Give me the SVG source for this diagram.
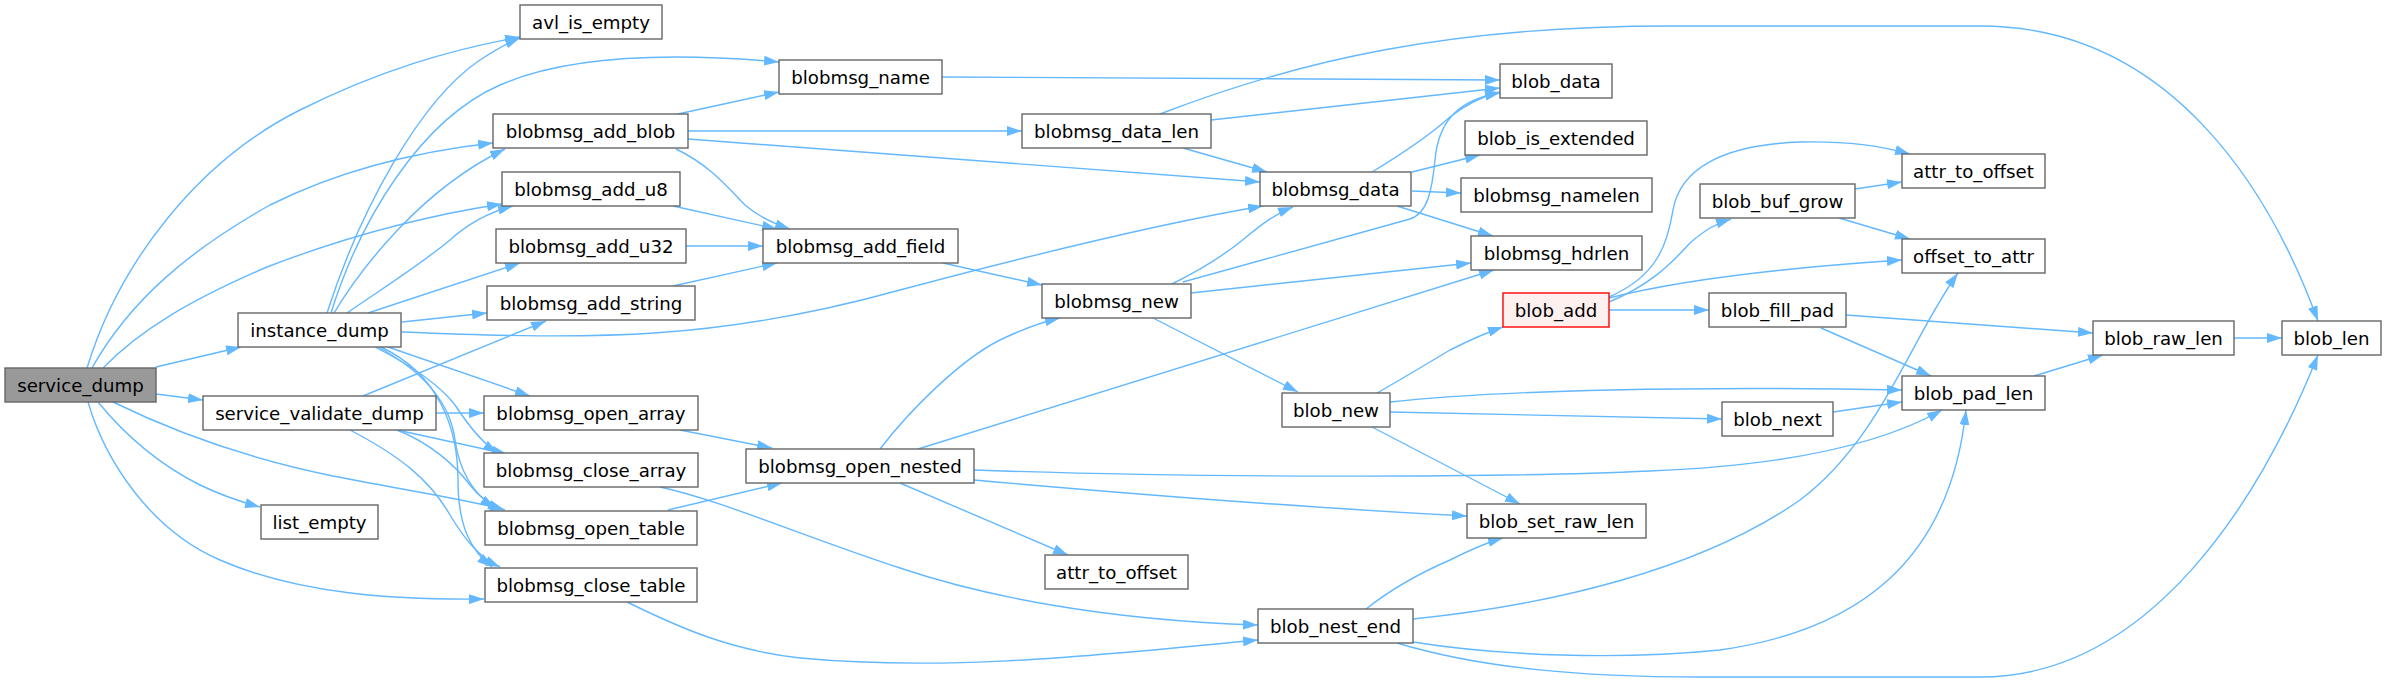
<svg xmlns="http://www.w3.org/2000/svg" width="2386" height="683" viewBox="0 0 2386 683">
<defs>
<marker id="ah" markerUnits="userSpaceOnUse" markerWidth="15" markerHeight="10" refX="15" refY="5" orient="auto" viewBox="0 0 15 10">
<path d="M0,0 L15,5 L0,10 z" fill="#63b8ff"/>
</marker>
<style>
.n rect{fill:#ffffff;stroke:#666666;stroke-width:1.4}
.n text{font-family:"DejaVu Sans",sans-serif;font-size:18.2px;fill:#000000;text-anchor:middle}
#n_service_dump rect{fill:#999999;stroke:#666666}
#n_blob_add rect{fill:#fff0f0;stroke:#ff0000}
.e path{fill:none;stroke:#63b8ff;stroke-width:1.4;marker-end:url(#ah)}
</style>
</defs>
<rect width="2386" height="683" fill="#ffffff"/>
<g id="edges" class="e">
<path d="M87,368 C120,260 200,160 300,110 C380,70 450,50 520,37"/>
<path d="M92,368 C130,300 190,250 270,205 C350,165 430,150 493,143"/>
<path d="M103,368 C140,330 190,300 267,267 C350,235 430,215 502,204"/>
<path d="M156,367 L241,347"/>
<path d="M156,394 L203,400"/>
<path d="M98,402 C125,435 160,465 200,485 C225,497 245,503 260,507"/>
<path d="M113,402 C160,425 230,455 333,476 C420,493 470,500 505,510"/>
<path d="M88,402 C105,460 150,530 220,560 C300,595 400,600 484,599"/>
<path d="M327,313 C360,210 420,100 480,60 C495,50 505,44 520,38"/>
<path d="M331,313 C360,220 420,120 500,85 C580,50 700,55 779,62"/>
<path d="M334,313 C360,270 420,190 505,149"/>
<path d="M347,313 C380,290 420,265 450,240 C470,222 490,212 513,206"/>
<path d="M368,313 L520,263"/>
<path d="M402,322 L487,313"/>
<path d="M402,332 C600,340 720,340 900,290 C1050,250 1180,220 1263,206"/>
<path d="M388,347 L530,396"/>
<path d="M375,347 C410,365 440,385 455,405 C470,428 485,445 498,453"/>
<path d="M378,347 C420,370 450,400 455,440 C460,475 475,495 495,508"/>
<path d="M381,347 C440,375 458,430 458,480 C458,525 470,550 492,567"/>
<path d="M363,396 L546,321"/>
<path d="M436,413 L484,413"/>
<path d="M397,430 L507,454"/>
<path d="M397,430 C430,443 455,465 470,485 C480,498 490,505 503,510"/>
<path d="M350,430 C400,456 430,480 450,515 C465,540 480,558 500,567"/>
<path d="M678,114 L779,92"/>
<path d="M688,131 L1022,131"/>
<path d="M688,139 L1260,182"/>
<path d="M676,149 C710,165 730,190 745,205 C760,218 775,224 790,229"/>
<path d="M673,206 L777,229"/>
<path d="M686,246 L763,246"/>
<path d="M673,286 L777,263"/>
<path d="M942,77 C1100,78 1300,79 1500,80"/>
<path d="M1211,120 L1500,88"/>
<path d="M1160,114 C1300,60 1450,26 1670,26 L1980,26 C2170,26 2270,190 2318,321"/>
<path d="M1183,148 L1267,172"/>
<path d="M1372,172 C1400,155 1430,135 1450,117 C1465,105 1480,97 1500,92"/>
<path d="M1412,172 L1480,155"/>
<path d="M1412,191 L1461,193"/>
<path d="M1397,206 L1493,236"/>
<path d="M943,263 L1042,285"/>
<path d="M1172,284 C1200,270 1225,255 1245,238 C1262,224 1275,214 1293,207"/>
<path d="M1183,282 L1410,219 C1428,213 1432,190 1435,160 C1438,125 1455,100 1500,93"/>
<path d="M1191,293 L1471,263"/>
<path d="M1153,318 L1298,392"/>
<path d="M680,430 L772,448"/>
<path d="M668,510 L782,483"/>
<path d="M660,487 C720,500 800,535 900,568 C980,595 1100,620 1258,625"/>
<path d="M627,602 C680,628 730,650 800,658 C950,672 1100,655 1258,640"/>
<path d="M880,449 C910,410 960,360 1000,340 C1025,328 1042,322 1060,318"/>
<path d="M918,449 L1494,270"/>
<path d="M974,470 C1200,478 1500,478 1650,471 C1780,466 1880,445 1942,410"/>
<path d="M974,480 C1200,500 1350,510 1467,516"/>
<path d="M900,483 L1068,555"/>
<path d="M1377,393 C1400,380 1425,365 1450,350 C1470,340 1485,333 1503,327"/>
<path d="M1390,402 C1500,390 1700,386 1902,390"/>
<path d="M1390,412 L1722,419"/>
<path d="M1372,427 L1520,504"/>
<path d="M1366,609 C1390,590 1420,573 1450,560 C1470,550 1485,543 1503,538"/>
<path d="M1413,619 C1550,605 1700,570 1800,500 C1880,440 1910,340 1958,273"/>
<path d="M1413,642 C1500,656 1620,660 1720,650 C1860,630 1950,560 1966,410"/>
<path d="M1397,643 C1480,668 1580,677 1700,677 L1980,677 C2150,677 2260,500 2318,355"/>
<path d="M1609,297 C1660,275 1668,240 1673,210 C1680,170 1720,145 1800,142 C1850,141 1880,146 1910,154"/>
<path d="M1609,302 C1650,285 1670,265 1690,243 C1705,230 1715,224 1731,219"/>
<path d="M1609,298 C1680,280 1780,268 1902,260"/>
<path d="M1609,310 L1709,310"/>
<path d="M1855,189 L1902,182"/>
<path d="M1839,218 L1910,239"/>
<path d="M1846,315 L2093,333"/>
<path d="M1821,328 L1931,376"/>
<path d="M1833,412 L1902,402"/>
<path d="M2034,376 L2103,355"/>
<path d="M2234,338 L2282,338"/>
</g>
<g id="n_service_dump" class="n"><rect x="5" y="368" width="151" height="34"/><text x="80.5" y="391.5">service_dump</text></g>
<g id="n_instance_dump" class="n"><rect x="238" y="313" width="163" height="34"/><text x="319.5" y="336.5">instance_dump</text></g>
<g id="n_service_validate_dump" class="n"><rect x="203" y="396" width="233" height="34"/><text x="319.5" y="419.5">service_validate_dump</text></g>
<g id="n_list_empty" class="n"><rect x="261" y="505" width="117" height="34"/><text x="319.5" y="528.5">list_empty</text></g>
<g id="n_avl_is_empty" class="n"><rect x="520" y="5" width="142" height="34"/><text x="591" y="28.5">avl_is_empty</text></g>
<g id="n_blobmsg_add_blob" class="n"><rect x="493" y="114" width="195" height="34"/><text x="590.5" y="137.5">blobmsg_add_blob</text></g>
<g id="n_blobmsg_add_u8" class="n"><rect x="502" y="172" width="178" height="34"/><text x="591" y="195.5">blobmsg_add_u8</text></g>
<g id="n_blobmsg_add_u32" class="n"><rect x="496" y="229" width="190" height="34"/><text x="591" y="252.5">blobmsg_add_u32</text></g>
<g id="n_blobmsg_add_string" class="n"><rect x="487" y="286" width="208" height="34"/><text x="591" y="309.5">blobmsg_add_string</text></g>
<g id="n_blobmsg_open_array" class="n"><rect x="484" y="396" width="214" height="34"/><text x="591" y="419.5">blobmsg_open_array</text></g>
<g id="n_blobmsg_close_array" class="n"><rect x="484" y="453" width="214" height="34"/><text x="591" y="476.5">blobmsg_close_array</text></g>
<g id="n_blobmsg_open_table" class="n"><rect x="485" y="511" width="212" height="34"/><text x="591" y="534.5">blobmsg_open_table</text></g>
<g id="n_blobmsg_close_table" class="n"><rect x="485" y="568" width="212" height="34"/><text x="591" y="591.5">blobmsg_close_table</text></g>
<g id="n_blobmsg_name" class="n"><rect x="779" y="60" width="163" height="34"/><text x="860.5" y="83.5">blobmsg_name</text></g>
<g id="n_blobmsg_add_field" class="n"><rect x="763" y="229" width="195" height="34"/><text x="860.5" y="252.5">blobmsg_add_field</text></g>
<g id="n_blobmsg_open_nested" class="n"><rect x="746" y="449" width="228" height="34"/><text x="860" y="472.5">blobmsg_open_nested</text></g>
<g id="n_blobmsg_data_len" class="n"><rect x="1022" y="114" width="189" height="34"/><text x="1116.5" y="137.5">blobmsg_data_len</text></g>
<g id="n_blobmsg_new" class="n"><rect x="1042" y="284" width="149" height="34"/><text x="1116.5" y="307.5">blobmsg_new</text></g>
<g id="n_attr_to_offset_a" class="n"><rect x="1045" y="555" width="143" height="34"/><text x="1116.5" y="578.5">attr_to_offset</text></g>
<g id="n_blobmsg_data" class="n"><rect x="1260" y="172" width="151" height="34"/><text x="1335.5" y="195.5">blobmsg_data</text></g>
<g id="n_blob_new" class="n"><rect x="1282" y="393" width="108" height="34"/><text x="1336" y="416.5">blob_new</text></g>
<g id="n_blob_nest_end" class="n"><rect x="1258" y="609" width="155" height="34"/><text x="1335.5" y="632.5">blob_nest_end</text></g>
<g id="n_blob_data" class="n"><rect x="1500" y="64" width="112" height="34"/><text x="1556" y="87.5">blob_data</text></g>
<g id="n_blob_is_extended" class="n"><rect x="1465" y="121" width="182" height="34"/><text x="1556" y="144.5">blob_is_extended</text></g>
<g id="n_blobmsg_namelen" class="n"><rect x="1461" y="178" width="191" height="34"/><text x="1556.5" y="201.5">blobmsg_namelen</text></g>
<g id="n_blobmsg_hdrlen" class="n"><rect x="1471" y="236" width="171" height="34"/><text x="1556.5" y="259.5">blobmsg_hdrlen</text></g>
<g id="n_blob_add" class="n"><rect x="1503" y="293" width="106" height="34"/><text x="1556" y="316.5">blob_add</text></g>
<g id="n_blob_set_raw_len" class="n"><rect x="1467" y="504" width="179" height="34"/><text x="1556.5" y="527.5">blob_set_raw_len</text></g>
<g id="n_blob_buf_grow" class="n"><rect x="1700" y="184" width="155" height="34"/><text x="1777.5" y="207.5">blob_buf_grow</text></g>
<g id="n_blob_fill_pad" class="n"><rect x="1709" y="293" width="137" height="34"/><text x="1777.5" y="316.5">blob_fill_pad</text></g>
<g id="n_blob_next" class="n"><rect x="1722" y="402" width="111" height="34"/><text x="1777.5" y="425.5">blob_next</text></g>
<g id="n_attr_to_offset_b" class="n"><rect x="1902" y="154" width="143" height="34"/><text x="1973.5" y="177.5">attr_to_offset</text></g>
<g id="n_offset_to_attr" class="n"><rect x="1902" y="239" width="143" height="34"/><text x="1973.5" y="262.5">offset_to_attr</text></g>
<g id="n_blob_pad_len" class="n"><rect x="1902" y="376" width="143" height="34"/><text x="1973.5" y="399.5">blob_pad_len</text></g>
<g id="n_blob_raw_len" class="n"><rect x="2093" y="321" width="141" height="34"/><text x="2163.5" y="344.5">blob_raw_len</text></g>
<g id="n_blob_len" class="n"><rect x="2282" y="321" width="99" height="34"/><text x="2331.5" y="344.5">blob_len</text></g>
</svg>
